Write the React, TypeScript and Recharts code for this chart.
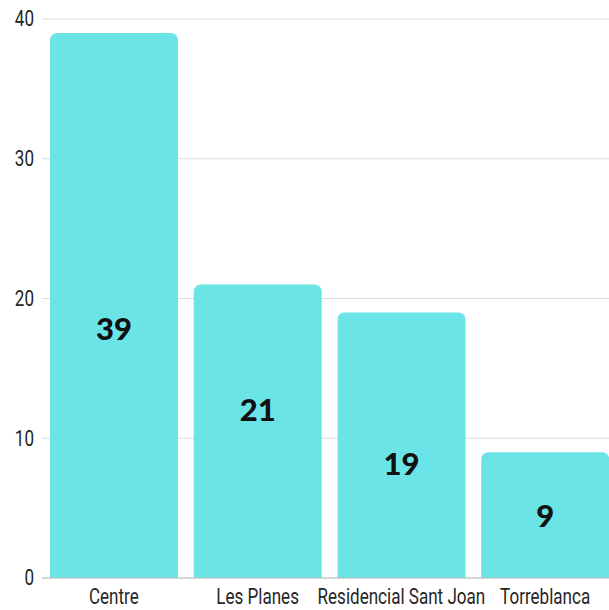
import React from 'react';
import { BarChart, Bar, XAxis, YAxis, CartesianGrid, LabelList } from 'recharts';

// Values
const districts = ['Centre', 'Les Planes', 'Residencial Sant Joan', 'Torreblanca'];
const counts = [39, 21, 19, 9];
// where the value label sits inside each bar, in axis units
const labelLevels = [17.9, 12.1, 8.2, 4.5];
const yTicks = [0, 10, 20, 30, 40];

const chartData = districts.map((name, i) => ({ name, value: counts[i] }));

const BAR_COLOR = '#6be4e8';
const TICK_FONT = 'Roboto, "DejaVu Sans", sans-serif';
const NARROW = 0.775;

// condensed look: squeeze a normal sans horizontally around the tick anchor
const NarrowTick = (props: any) => {
  const { x, y, payload, textAnchor, dy = 0 } = props;
  return (
    <g transform={`translate(${x},${y}) scale(${NARROW},1)`}>
      <text
        x={0}
        y={0}
        dy={dy}
        textAnchor={textAnchor}
        dominantBaseline="central"
        fill="#262626"
        style={{ fontFamily: TICK_FONT, fontSize: 22 }}
      >
        {payload.value}
      </text>
    </g>
  );
};

const ValueLabel = (props: any) => {
  const { x, y, width, height, value, index } = props;
  const level = labelLevels[index] ?? value / 2;
  const cy = y + height * (1 - level / value);
  return (
    <text
      x={x + width / 2}
      y={cy}
      textAnchor="middle"
      dominantBaseline="central"
      fill="#111"
      style={{ fontFamily: 'Lato, sans-serif', fontWeight: 900, fontSize: 31 }}
    >
      {value}
    </text>
  );
};

const App: React.FC = () => {
  return (
    <div style={{ position: 'fixed', left: 0, top: 0, width: 609, height: 610, overflow: 'hidden', background: '#fff' }}>
      <BarChart
        width={617}
        height={610}
        data={chartData}
        margin={{ top: 19, right: 0, left: 0, bottom: 0 }}
        barCategoryGap={8}
      >
        <CartesianGrid vertical={false} stroke="#dcdcdc" />
        <XAxis
          dataKey="name"
          interval={0}
          height={32}
          tickLine={false}
          axisLine={{ stroke: '#bdbdbd' }}
          tick={<NarrowTick dy={11} />}
        />
        <YAxis
          width={42}
          domain={[0, 40]}
          ticks={yTicks}
          axisLine={false}
          tickLine={false}
          tick={<NarrowTick dy={0} />}
        />
        <Bar dataKey="value" fill={BAR_COLOR} radius={[7, 7, 0, 0]} isAnimationActive={false}>
          <LabelList dataKey="value" content={<ValueLabel />} />
        </Bar>
      </BarChart>
    </div>
  );
};

export default App;
